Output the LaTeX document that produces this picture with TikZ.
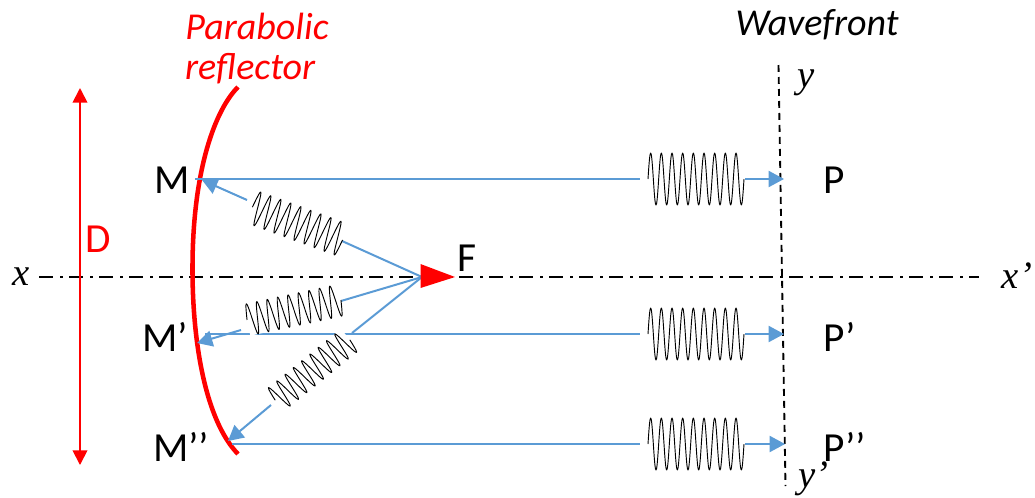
\documentclass[tikz,border=0pt]{standalone}
\usepackage{fontspec}
\setmainfont{Carlito}
\newfontfamily\mathlike{Liberation Serif}
\usetikzlibrary{arrows.meta}
\definecolor{ray}{RGB}{91,155,213}
\definecolor{refl}{RGB}{255,0,0}
\newcommand{\labfont}{\fontsize{31pt}{34pt}\selectfont}
\newcommand{\wavefont}{\fontsize{28.5pt}{32pt}\selectfont\itshape}
\newcommand{\symfont}{\fontsize{29pt}{32pt}\selectfont\mathlike\itshape}
% \wavetrain{centre}{angle}{half height}: a nine-period wave packet, 96 px long
\newcommand{\wavetrain}[3]{%
  \draw[wavepk,shift={(#1)},rotate=#2]
    plot[domain=-48:48,samples=181,smooth] (\x,{-#3*sin(33.75*(\x+48))});}
\tikzset{
  x=0.75pt,y=-0.75pt,
  lab/.style={inner sep=0pt,font=\labfont},
  sym/.style={inner sep=0pt,font=\symfont},
  wavepk/.style={draw=black,line width=0.7pt,line join=round},
  rayline/.style={draw=ray,line width=1.5pt},
  rayarrow/.style={rayline,-{Triangle[length=11.5pt,width=12pt,fill=ray]}},
  axisline/.style={draw=black,line width=1.4pt,dash pattern=on 10.5pt off 5.5pt on 2.3pt off 4.2pt},
  frontline/.style={draw=black,line width=1.4pt,dash pattern=on 5.2pt off 3.8pt},
  reflector/.style={draw=refl,line width=3.4pt},
  dimline/.style={draw=refl,line width=1.35pt,{Triangle[length=11pt,width=11pt]}-{Triangle[length=11pt,width=11pt]}},
  mask/.style={fill=white,draw=none},
}
\begin{document}
\begin{tikzpicture}
\useasboundingbox (0,0) rectangle (1035,497);
% axis and wavefront
\coordinate (xa) at (39,277); \coordinate (xb) at (979,277);
\coordinate (ya) at (778.5,65); \coordinate (yb) at (785.5,486);
\draw[axisline] (xa) -- (xb);
\draw[frontline] (ya) -- (yb);
% dimension
\coordinate (da) at (80,88); \coordinate (db) at (80,465);
\draw[dimline] (da) -- (db);
% reflector
\coordinate (ra) at (238,87); \coordinate (rb) at (192.5,265); \coordinate (rc) at (238,454);
\draw[reflector] (ra) .. controls (215,110) and (193,170) .. (rb) .. controls (192,340) and (205,420) .. (rc);
% focus and reflection points
\coordinate (F) at (422,277);
\coordinate (M) at (202,180); \coordinate (Ma) at (197,343); \coordinate (Mb) at (228,441);
\coordinate (Mm) at (195,179); \coordinate (Mam) at (205,334); \coordinate (Mbm) at (232,444);
\coordinate (P) at (784,179); \coordinate (Pa) at (784,334); \coordinate (Pb) at (785,444);
\coordinate (P1) at (745,179); \coordinate (Pa1) at (745,334); \coordinate (Pb1) at (745,444);
\coordinate (Q1) at (640,179); \coordinate (Qa1) at (640,334); \coordinate (Qb1) at (640,444);
% horizontal rays
\draw[rayline] (Mm) -- (Q1);
\draw[rayline] (Mam) -- (Qa1);
\draw[rayline] (Mbm) -- (Qb1);
\draw[rayarrow] (P1) -- (P);
\draw[rayarrow] (Pa1) -- (Pa);
\draw[rayarrow] (Pb1) -- (Pb);
% rays from focus
\coordinate (r1a) at (342,241); \coordinate (r1b) at (247,200);
\coordinate (r2a) at (341,301); \coordinate (r2b) at (241,330);
\coordinate (r3a) at (352,333); \coordinate (r3b) at (271,405);
\draw[rayline] (F) -- (r2a);
\draw[rayline] (F) -- (r3a);
\draw[rayline] (F) -- (r1a);
\draw[rayarrow] (r1b) -- (M);
\draw[rayarrow] (r2b) -- (Ma);
\draw[rayarrow] (r3b) -- (Mb);
% masks and wave packets
\fill[mask,shift={(294,310)},rotate=12] (-48,-16) rectangle (48,16);
\fill[mask,shift={(312.5,370)},rotate=39] (-48,-14) rectangle (48,14);
\wavetrain{696,179}{0}{26}
\wavetrain{696,334}{0}{26}
\wavetrain{696,444}{0}{26}
\wavetrain{297.5,223.5}{-20}{17}
\wavetrain{294,310}{12}{16}
\wavetrain{312.5,370}{39}{14}
% focus triangle
\coordinate (Ft) at (455,277); \coordinate (Fu) at (420.5,264); \coordinate (Fl) at (420.5,288);
\fill[refl] (Fu) -- (Ft) -- (Fl) -- cycle;
% labels
\node[lab,text=refl] (dlab) at (98,239) {D};
\node[lab,anchor=west] (mlab) at (154,180) {M};
\node[lab,anchor=west] (malab) at (142,337) {M’};
\node[lab,anchor=west] (mblab) at (153,447) {M’’};
\node[lab] (flab) at (467,258) {F};
\node[lab,anchor=west] (plab) at (823,180) {P};
\node[lab,anchor=west] (palab) at (823,337) {P’};
\node[lab,anchor=west] (pblab) at (823,447) {P’’};
\node[sym] (xlab) at (21,277) {x};
\node[sym,anchor=west] (xblab) at (1001,276) {x\hspace{1pt}’};
\node[sym] (ylab) at (806,83) {y};
\node[sym,anchor=west] (yblab) at (798,479) {y’};
\node[font=\wavefont,inner sep=0pt] (wf) at (817,25) {Wavefront};
\node[font=\wavefont,inner sep=0pt,text=refl] (pr1) at (257,26) {Parabolic};
\node[font=\wavefont,inner sep=0pt,text=refl] (pr2) at (250,69) {reflector};
\end{tikzpicture}
\end{document}
